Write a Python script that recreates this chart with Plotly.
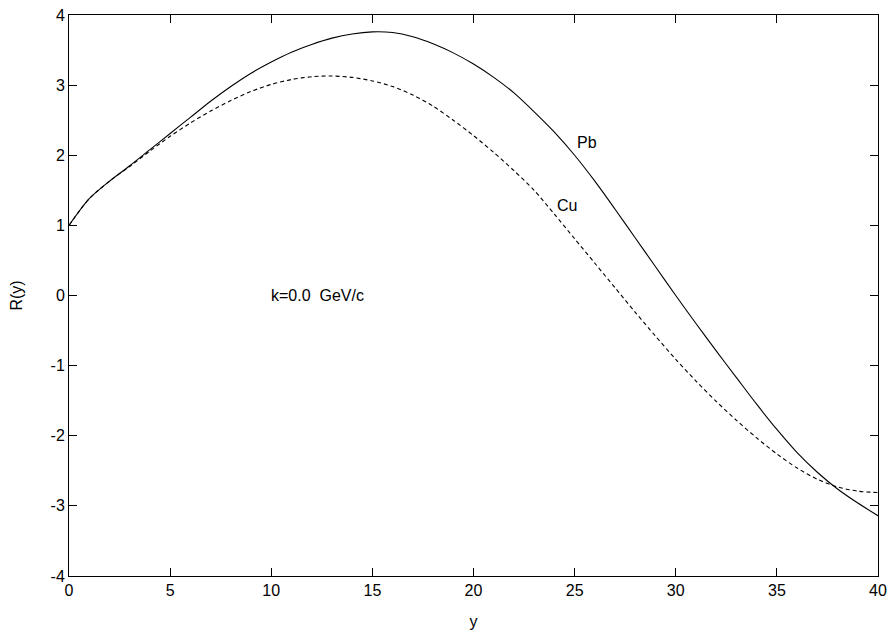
import plotly.graph_objects as go

x_vals = list(range(0, 41))
pb_vals = [1.00, 1.38, 1.63, 1.85, 2.08, 2.31, 2.54, 2.77, 2.98, 3.17, 3.33, 3.47, 3.58, 3.67, 3.73, 3.76, 3.75,
           3.69, 3.59, 3.46, 3.30, 3.11, 2.89, 2.62, 2.33, 2.00, 1.63, 1.23, 0.82, 0.41, 0.00, -0.40, -0.79,
           -1.17, -1.55, -1.91, -2.24, -2.52, -2.76, -2.96, -3.14]
cu_vals = [1.00, 1.38, 1.63, 1.84, 2.06, 2.27, 2.46, 2.63, 2.78, 2.91, 3.01, 3.08, 3.12, 3.13, 3.11, 3.06, 2.98,
           2.86, 2.70, 2.50, 2.28, 2.04, 1.78, 1.50, 1.16, 0.81, 0.46, 0.11, -0.24, -0.58, -0.91, -1.22, -1.51,
           -1.78, -2.03, -2.26, -2.46, -2.62, -2.73, -2.79, -2.81]

x_ticks = [0, 5, 10, 15, 20, 25, 30, 35, 40]
x_tick_labels = ["0", "5", "10", "15", "20", "25", "30", "35", "40"]
y_ticks = [-4, -3, -2, -1, 0, 1, 2, 3, 4]
y_tick_labels = ["-4", "-3", "-2", "-1", "0", "1", "2", "3", "4"]

annotations_text = [("Pb", 25.6, 2.18), ("Cu", 24.6, 1.28), ("k=0.0&nbsp; GeV/c", 12.3, 0.0)]

font_family = "Liberation Sans, Arial, sans-serif"
fsize = 16

fig = go.Figure()
fig.add_trace(go.Scatter(x=x_vals, y=pb_vals, mode="lines",
                         line=dict(color="black", width=1.1, shape="spline", smoothing=0.8), name="Pb"))
fig.add_trace(go.Scatter(x=x_vals, y=cu_vals, mode="lines",
                         line=dict(color="black", width=1.1, dash="4px,3px", shape="spline", smoothing=0.8), name="Cu"))

for t, ax, ay in annotations_text:
    fig.add_annotation(x=ax, y=ay, text=t, showarrow=False,
                       font=dict(family=font_family, size=fsize, color="black"),
                       xanchor="center", yanchor="middle")

axis_common = dict(showgrid=False, zeroline=False, showline=True, linecolor="black", linewidth=1,
                   mirror="ticks", ticks="inside", ticklen=8, tickcolor="black", tickwidth=1,
                   automargin=False,
                   tickfont=dict(family=font_family, size=fsize, color="black"))

fig.update_xaxes(range=[0, 40], tickvals=x_ticks, ticktext=x_tick_labels,
                 title=dict(text="y", font=dict(family=font_family, size=fsize, color="black"), standoff=17),
                 **axis_common)
fig.update_yaxes(range=[-4, 4], tickvals=y_ticks, ticktext=y_tick_labels,
                 title=dict(text="R(y)", font=dict(family=font_family, size=fsize, color="black"), standoff=23),
                 **axis_common)

fig.update_layout(width=890, height=634, margin=dict(l=69, r=12, t=15, b=58, autoexpand=False), showlegend=False,
                  plot_bgcolor="white", paper_bgcolor="white")

fig.write_html("out.html", config={"displayModeBar": False},
               post_script="document.body.style.margin='0';document.body.style.overflow='hidden';")
